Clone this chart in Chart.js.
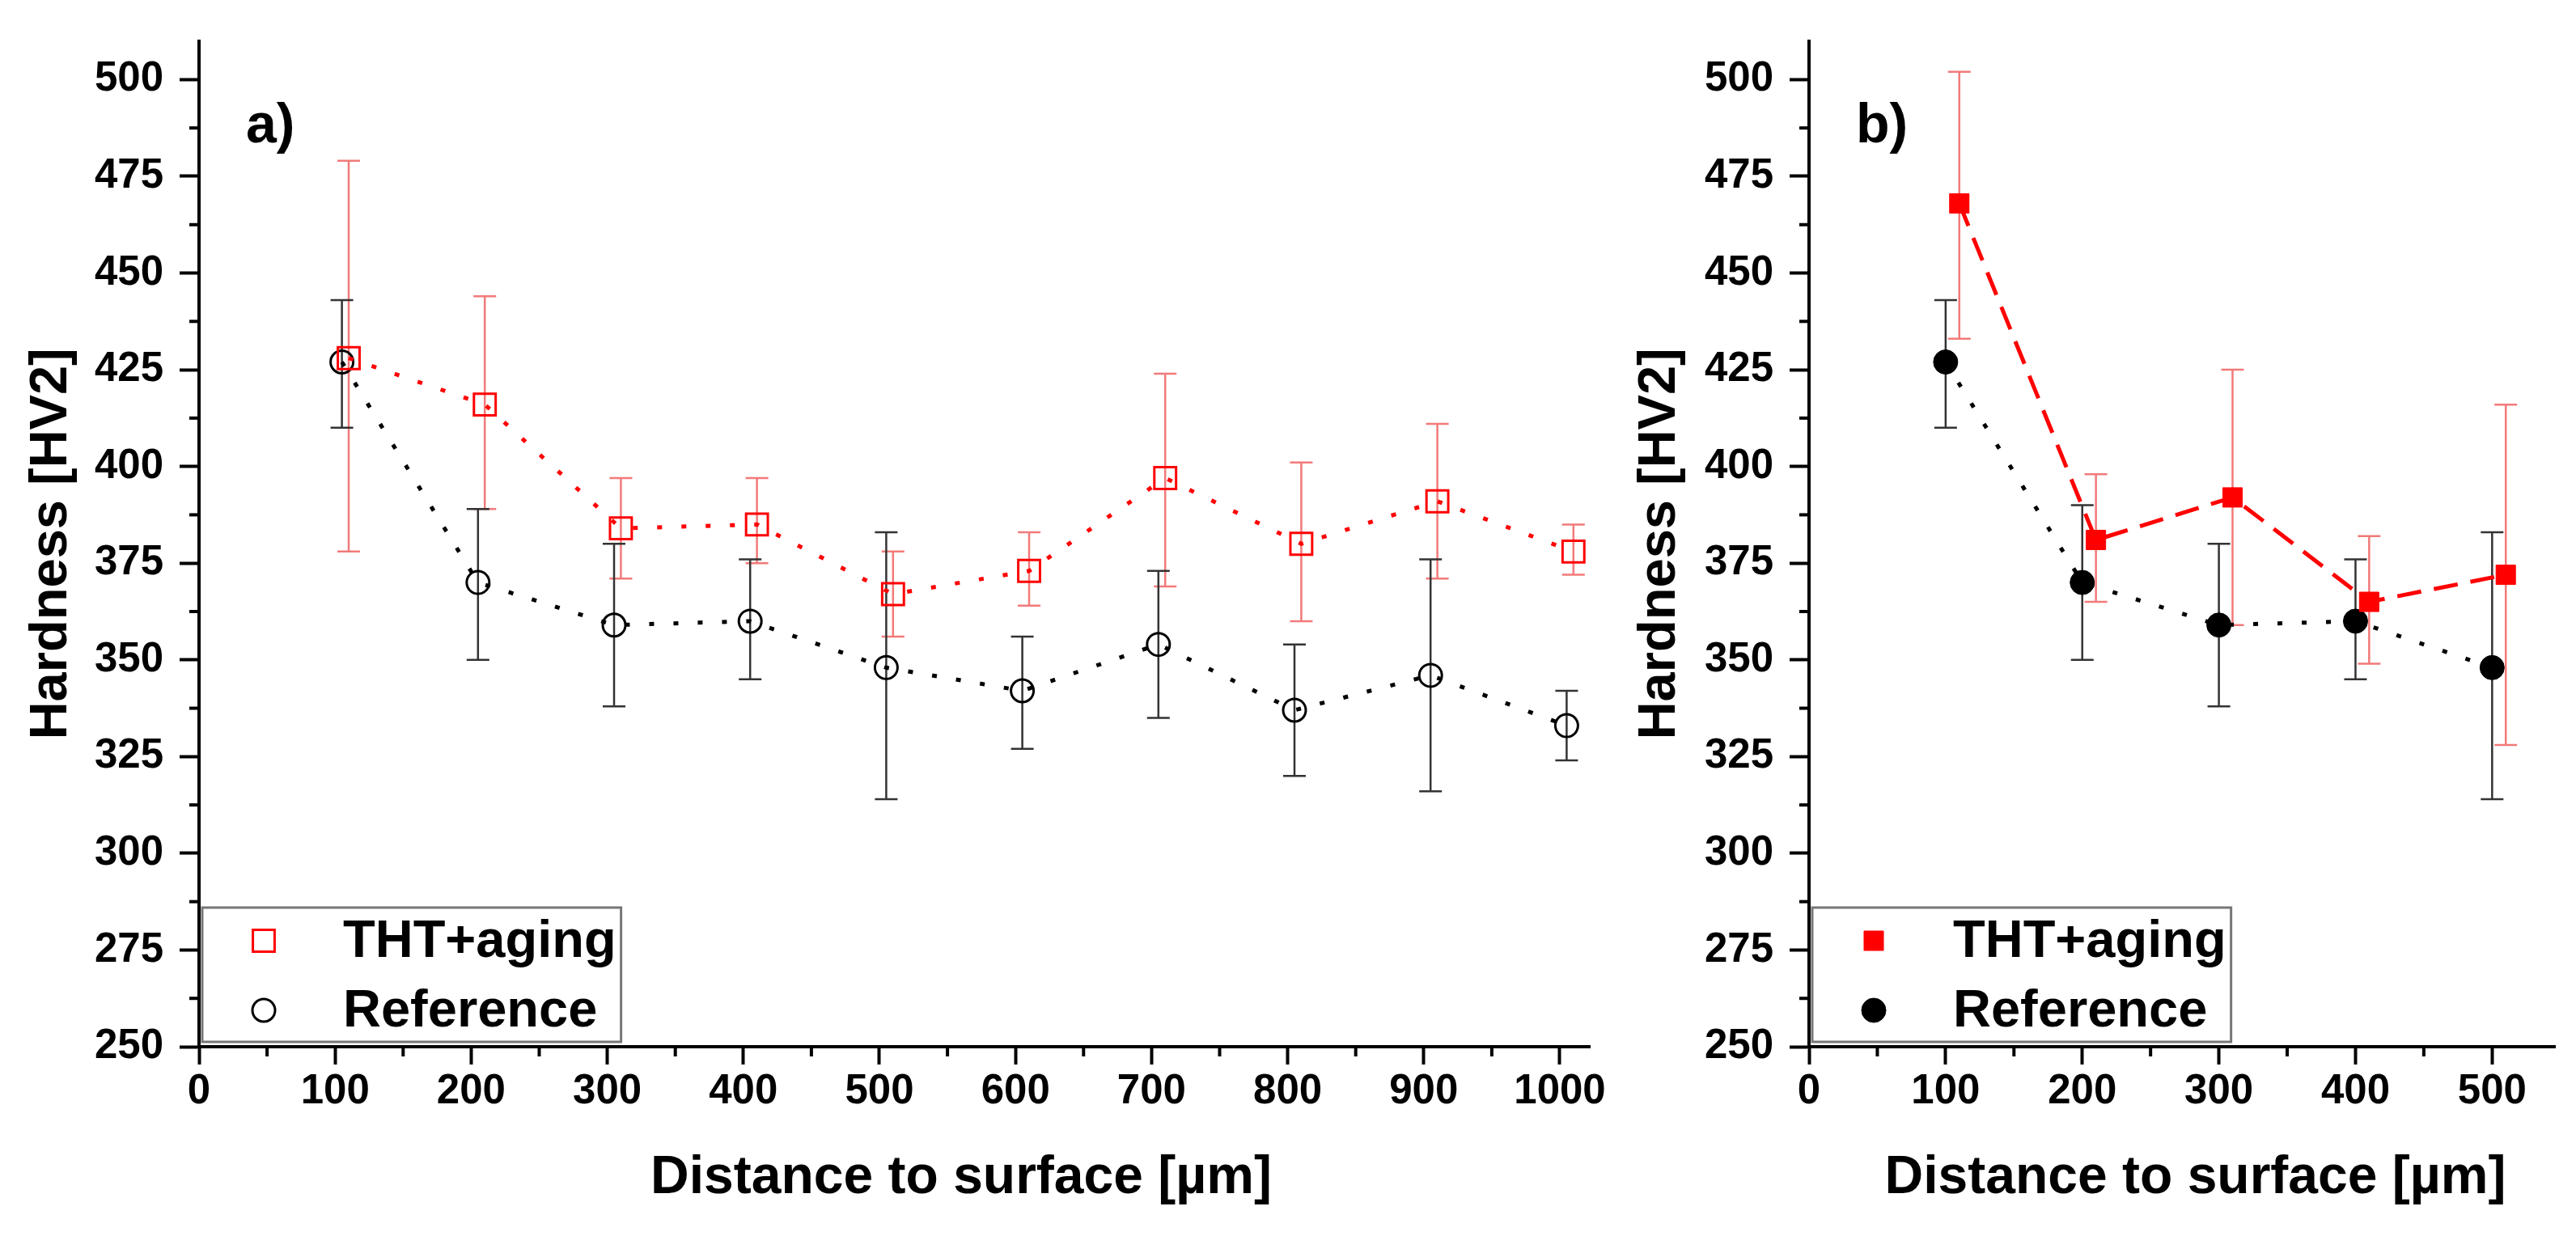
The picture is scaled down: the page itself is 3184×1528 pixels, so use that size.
<!DOCTYPE html>
<html>
<head>
<meta charset="utf-8">
<script src="https://cdn.jsdelivr.net/npm/chart.js@4.4.1/dist/chart.umd.min.js"></script>
<style>
html, body { margin: 0; padding: 0; background: #fff; }
#wrapA { position: absolute; left: 0; top: 0; width: 2000px; height: 1528px; }
#wrapB { position: absolute; left: 2000px; top: 0; width: 1184px; height: 1528px; }
</style>
</head>
<body>
<div id="wrapA"><canvas id="chartA" width="2000" height="1528"></canvas></div>
<div id="wrapB"><canvas id="chartB" width="1184" height="1528"></canvas></div>
<script>
// panel a) - all depths
var distThtA = [110, 210, 310, 410, 510, 610, 710, 810, 910, 1010];
var distRefA = [105, 205, 305, 405, 505, 605, 705, 805, 905, 1005];
var thtA     = [428, 416, 384, 385, 367, 373, 397, 380, 391, 378];
var thtALow  = [378, 389, 371, 375, 356, 364, 369, 360, 371, 372];
var thtAHigh = [479, 444, 397, 397, 378, 383, 424, 401, 411, 385];
var refA     = [427, 370, 359, 360, 348, 342, 354, 337, 346, 333];
var refALow  = [410, 350, 338, 345, 314, 327, 335, 320, 316, 324];
var refAHigh = [443, 389, 380, 376, 383, 356, 373, 354, 376, 342];

// panel b) - first 500 um
var distThtB = [110, 210, 310, 410, 510];
var distRefB = [100, 200, 300, 400, 500];
var thtB     = [468, 381, 392, 365, 372];
var thtBLow  = [433, 365, 359, 349, 328];
var thtBHigh = [502, 398, 425, 382, 416];
var refB     = [427, 370, 359, 360, 348];
var refBLow  = [410, 350, 338, 345, 314];
var refBHigh = [443, 390, 380, 376, 383];

var xTicksA = [0, 100, 200, 300, 400, 500, 600, 700, 800, 900, 1000];
var xTicksB = [0, 100, 200, 300, 400, 500];
var yTicks  = [250, 275, 300, 325, 350, 375, 400, 425, 450, 475, 500];

var FONT = "'Liberation Sans', Arial, Helvetica, sans-serif";

function pts(xs, ys) {
    return xs.map(function (x, i) { return { x: x, y: ys[i] }; });
}
function mids(t) {
    var out = [];
    for (var i = 0; i < t.length - 1; i++) out.push((t[i] + t[i + 1]) / 2);
    return out;
}

// error bars, drawn behind lines and markers
var errorBars = {
    id: 'errorBars',
    beforeDatasetsDraw: function (chart) {
        var ctx = chart.ctx, ys = chart.scales.y;
        chart.data.datasets.forEach(function (ds, di) {
            var meta = chart.getDatasetMeta(di);
            ctx.save();
            ctx.strokeStyle = ds.errColor;
            ctx.lineWidth = 2.5;
            meta.data.forEach(function (p, i) {
                var lo = ys.getPixelForValue(ds.errLow[i]);
                var hi = ys.getPixelForValue(ds.errHigh[i]);
                ctx.beginPath();
                ctx.moveTo(p.x, lo); ctx.lineTo(p.x, hi);
                ctx.moveTo(p.x - 14, lo); ctx.lineTo(p.x + 14, lo);
                ctx.moveTo(p.x - 14, hi); ctx.lineTo(p.x + 14, hi);
                ctx.stroke();
            });
            ctx.restore();
        });
    }
};

// short minor ticks between the labelled ones
var minorTicks = {
    id: 'minorTicks',
    afterDraw: function (chart, args, opts) {
        var ctx = chart.ctx, x = chart.scales.x, y = chart.scales.y;
        ctx.save();
        ctx.strokeStyle = '#000';
        ctx.lineWidth = 4;
        opts.x.forEach(function (v) {
            var px = x.getPixelForValue(v);
            ctx.beginPath(); ctx.moveTo(px, x.top); ctx.lineTo(px, x.top + 12); ctx.stroke();
        });
        opts.y.forEach(function (v) {
            var py = y.getPixelForValue(v);
            ctx.beginPath(); ctx.moveTo(y.right, py); ctx.lineTo(y.right - 12, py); ctx.stroke();
        });
        ctx.restore();
    }
};

// legend box inside the plot and the panel letter
var annot = {
    id: 'annot',
    afterDraw: function (chart, args, opts) {
        var ctx = chart.ctx, a = chart.chartArea;
        ctx.save();
        ctx.fillStyle = '#000';
        ctx.font = 'bold 68px ' + FONT;
        ctx.textBaseline = 'alphabetic';
        ctx.fillText(opts.letter, a.left + 58, 176);

        ctx.font = 'bold 65px ' + FONT;
        var textX = a.left + 178, w = 0;
        chart.data.datasets.forEach(function (ds) { w = Math.max(w, ctx.measureText(ds.label).width); });
        var top = a.bottom - 172, bottom = a.bottom - 6, left = a.left + 4;
        ctx.fillStyle = '#fff';
        ctx.fillRect(left, top, textX + w + 6 - left, bottom - top);
        ctx.strokeStyle = '#777';
        ctx.lineWidth = 3;
        ctx.strokeRect(left, top, textX + w + 6 - left, bottom - top);
        chart.data.datasets.forEach(function (ds, i) {
            var cy = top + 41 + i * 86, cx = a.left + 80;
            ctx.lineWidth = ds.pointBorderWidth;
            ctx.strokeStyle = ds.pointBorderColor;
            ctx.fillStyle = ds.pointBackgroundColor;
            ctx.beginPath();
            if (ds.pointStyle === 'rect') {
                var s = ds.pointRadius * Math.SQRT1_2;
                ctx.rect(cx - s, cy - s, 2 * s, 2 * s);
            } else {
                ctx.arc(cx, cy, ds.pointRadius, 0, Math.PI * 2);
            }
            ctx.fill();
            ctx.stroke();
            ctx.fillStyle = '#000';
            ctx.textBaseline = 'middle';
            ctx.fillText(ds.label, textX, cy + 2);
        });
        ctx.restore();
    }
};

function makeChart(id, datasets, xMax, xTicks, letter, padRight, yWidth, yTitlePad, xTitle) {
    var ctx = document.getElementById(id).getContext('2d');
    return new Chart(ctx, {
        type: 'line',
        data: { datasets: datasets },
        plugins: [errorBars, minorTicks, annot],
        options: {
            responsive: false,
            devicePixelRatio: 1,
            animation: false,
            layout: { padding: { top: 30, right: padRight, left: 0, bottom: 0 } },
            plugins: {
                legend: { display: false },
                tooltip: { enabled: false },
                minorTicks: { x: mids(xTicks), y: mids(yTicks) },
                annot: { letter: letter }
            },
            scales: {
                x: {
                    type: 'linear',
                    min: 0,
                    max: xMax,
                    afterFit: function (s) { s.height = 234; },
                    afterBuildTicks: function (s) { s.ticks = xTicks.map(function (v) { return { value: v }; }); },
                    grid: { drawOnChartArea: false, drawTicks: true, tickLength: 22, tickWidth: 4, tickColor: '#000' },
                    border: { display: true, color: '#000', width: 4 },
                    ticks: { color: '#000', padding: 3, maxRotation: 0, autoSkip: false,
                             callback: function (v) { return String(v); },
                             font: { family: FONT, size: 51, weight: 'bold' } },
                    title: { display: true, text: xTitle, color: '#000',
                             font: { family: FONT, size: 66, weight: 'bold' },
                             padding: { top: 0, bottom: 32 } }
                },
                y: {
                    type: 'linear',
                    min: 250,
                    max: 510,
                    afterFit: function (s) { s.width = yWidth; },
                    afterBuildTicks: function (s) { s.ticks = yTicks.map(function (v) { return { value: v }; }); },
                    grid: { drawOnChartArea: false, drawTicks: true, tickLength: 24, tickWidth: 4, tickColor: '#000' },
                    border: { display: true, color: '#000', width: 4 },
                    ticks: { color: '#000', padding: 20,
                             callback: function (v) { return String(v); },
                             font: { family: FONT, size: 51, weight: 'bold' } },
                    title: { display: true, text: 'Hardness [HV2]', color: '#000',
                             font: { family: FONT, size: 65, weight: 'bold' },
                             padding: { top: yTitlePad, bottom: 0 } }
                }
            }
        }
    });
}

makeChart('chartA', [
    {
        label: 'THT+aging',
        data: pts(distThtA, thtA),
        errLow: thtALow, errHigh: thtAHigh, errColor: '#f27a7a',
        borderColor: '#ff0000', borderWidth: 5, borderDash: [6, 24], fill: false, tension: 0,
        pointStyle: 'rect', pointRadius: 19, pointBorderWidth: 3,
        pointBorderColor: '#ff0000', pointBackgroundColor: 'rgba(255,255,255,0)'
    },
    {
        label: 'Reference',
        data: pts(distRefA, refA),
        errLow: refALow, errHigh: refAHigh, errColor: '#333333',
        borderColor: '#000000', borderWidth: 5, borderDash: [6, 24], fill: false, tension: 0,
        pointStyle: 'circle', pointRadius: 14, pointBorderWidth: 3,
        pointBorderColor: '#000000', pointBackgroundColor: 'rgba(255,255,255,0)'
    }
], 1022, xTicksA, 'a)', 35, 246, 25, '\u2002\u2002\u2002\u2002\u2002Distance to surface [µm]');

makeChart('chartB', [
    {
        label: 'THT+aging',
        data: pts(distThtB, thtB),
        errLow: thtBLow, errHigh: thtBHigh, errColor: '#f27a7a',
        borderColor: '#ff0000', borderWidth: 5, borderDash: [30, 16], fill: false, tension: 0,
        pointStyle: 'rect', pointRadius: 17, pointBorderWidth: 1,
        pointBorderColor: '#ff0000', pointBackgroundColor: '#ff0000'
    },
    {
        label: 'Reference',
        data: pts(distRefB, refB),
        errLow: refBLow, errHigh: refBHigh, errColor: '#333333',
        borderColor: '#000000', borderWidth: 5, borderDash: [6, 24], fill: false, tension: 0,
        pointStyle: 'circle', pointRadius: 15, pointBorderWidth: 1,
        pointBorderColor: '#000000', pointBackgroundColor: '#000000'
    }
], 546, xTicksB, 'b)', 26, 236, 13, '\u2002Distance to surface [µm]');
</script>
</body>
</html>
